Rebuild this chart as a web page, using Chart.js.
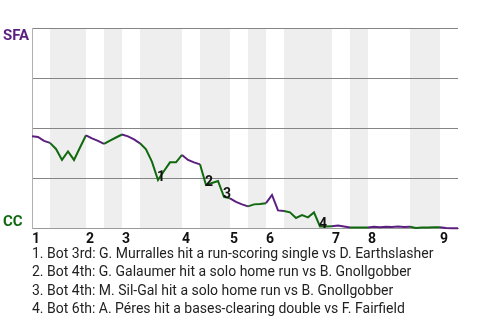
<!DOCTYPE html>
<html lang="en">
<head>
  <meta charset="UTF-8">
  <title>Win Probability</title>
  <script src="https://cdn.jsdelivr.net/npm/chart.js"></script>
  <style>
    body {
      margin: 0;
      background: #fff;
      font-family: Roboto, sans-serif;
    }
    #wrap {
      position: relative;
      width: 480px;
      height: 253px;
    }
    #notes {
      position: absolute;
      left: 32px;
      top: 244px;
      font-size: 14px;
      line-height: 18.3px;
      color: #222;
      white-space: nowrap;
    }
  </style>
</head>
<body>
  <div id="wrap"><canvas id="wpChart"></canvas></div>
  <div id="notes"></div>

  <script>
    // SFA win probability (%) after each plate appearance, play 0 = first pitch
    const sfaWinPct = [
      45.9, 45.6, 43.6, 42.6,                     // top 1
      39.6, 34.1, 38.3, 34.1, 40.3, 46.4,         // bot 1
      44.9, 43.6, 42.1,                           // top 2
      43.8, 45.3, 46.8,                           // bot 2
      45.9, 44.4, 42.4,                           // top 3
      39.4, 33.1, 24.1, 28.6, 32.9, 32.9, 36.6,   // bot 3
      34.1, 32.9, 31.9,                           // top 4
      21.6, 22.6, 23.6, 15.6, 14.9,               // bot 4
      13.1, 11.9, 10.9,                           // top 5
      11.9, 12.1, 12.5,                           // bot 5
      16.6, 8.9, 8.6,                             // top 6
      7.9, 5.1, 6.6, 5.4, 7.9, 0.9, 0.9, 1.0,     // bot 6
      1.4, 0.9, 0.4,                              // top 7
      0.35, 0.35, 0.35,                           // bot 7
      0.75, 0.45, 0.75, 0.55, 0.9, 0.55, 0.7,     // top 8
      0.1, 0.4, 0.4, 0.45, 0.5,                   // bot 8
      0.1, 0, 0                                   // top 9
    ];

    // [first play, last play] of each bottom half (shaded)
    const bottomHalves = [[3, 9], [12, 15], [18, 25], [28, 33], [36, 39], [42, 50], [53, 56], [63, 68]];
    const inningStarts = [0, 9, 15, 25, 33, 39, 50, 56, 68];
    const inningLabels = ['1', '2', '3', '4', '5', '6', '7', '8', '9'];

    const teamTop = 'SFA';
    const teamBottom = 'CC';
    const topLabelAt = 95.9;
    const bottomLabelAt = 3.15;

    const highlightPlays = [21, 29, 32, 48];
    const highlightNotes = [
      'Bot 3rd: G. Murralles hit a run-scoring single vs D. Earthslasher',
      'Bot 4th: G. Galaumer hit a solo home run vs B. Gnollgobber',
      'Bot 4th: M. Sil-Gal hit a solo home run vs B. Gnollgobber',
      'Bot 6th: A. Péres hit a bases-clearing double vs F. Fairfield'
    ];

    const PURPLE = '#5b1f80';
    const GREEN = '#11690f';

    function isBottomPlay(i) {
      return bottomHalves.some(([s, e]) => i > s && i <= e);
    }

    const gamePlugin = {
      id: 'gameMarks',
      beforeDraw(chart) {
        const { ctx, chartArea } = chart;
        const xs = chart.scales.x;
        ctx.save();
        ctx.fillStyle = '#eeeeee';
        bottomHalves.forEach(([s, e]) => {
          const x0 = xs.getPixelForValue(s);
          const x1 = xs.getPixelForValue(e);
          ctx.fillRect(x0, chartArea.top, x1 - x0, chartArea.bottom - chartArea.top);
        });
        ctx.restore();
      },
      afterDatasetsDraw(chart) {
        const { ctx } = chart;
        const xs = chart.scales.x, ys = chart.scales.y;
        ctx.save();
        ctx.fillStyle = '#111';
        ctx.font = 'bold 14px Roboto, sans-serif';
        ctx.textAlign = 'left';
        ctx.textBaseline = 'middle';
        highlightPlays.forEach((p, n) => {
          ctx.fillText(String(n + 1), xs.getPixelForValue(p) - 1, ys.getPixelForValue(sfaWinPct[p]) - 2);
        });
        ctx.restore();
      }
    };

    const ctx = document.getElementById('wpChart').getContext('2d');
    const wpChart = new Chart(ctx, {
      type: 'line',
      data: {
        datasets: [{
          data: sfaWinPct.map((v, i) => ({ x: i, y: v })),
          borderWidth: 2,
          pointRadius: 0,
          tension: 0,
          clip: false,
          borderColor: PURPLE,
          segment: {
            borderColor: c => isBottomPlay(c.p1DataIndex) ? GREEN : PURPLE
          }
        }]
      },
      options: {
        responsive: true,
        maintainAspectRatio: false,
        animation: false,
        layout: { padding: { top: 28, right: 22, bottom: 2, left: 3 } },
        plugins: {
          legend: { display: false },
          tooltip: { enabled: false }
        },
        scales: {
          x: {
            type: 'linear',
            min: 0,
            max: sfaWinPct.length - 1,
            afterBuildTicks: s => { s.ticks = inningStarts.map(v => ({ value: v })); },
            grid: { display: false, drawTicks: false },
            border: { color: '#9a9a9a', width: 1 },
            ticks: {
              autoSkip: false,
              maxRotation: 0,
              align: 'start',
              padding: 3,
              color: '#111',
              font: { family: 'Roboto', size: 14, weight: 'bold' },
              callback: v => inningLabels[inningStarts.indexOf(v)]
            }
          },
          y: {
            min: 0,
            max: 100,
            afterBuildTicks: s => {
              s.ticks = [0, bottomLabelAt, 25, 50, 75, topLabelAt, 100].map(v => ({ value: v }));
            },
            afterFit: s => { s.width = 29; },
            grid: {
              drawTicks: false,
              color: c => (c.tick && c.tick.value % 25 === 0) ? '#858585' : 'rgba(0,0,0,0)',
              lineWidth: 1
            },
            border: { color: '#b0b0b0', width: 1 },
            ticks: {
              autoSkip: false,
              crossAlign: 'far',
              font: { family: 'Roboto', size: 15, weight: 'bold' },
              color: c => c.tick.value === topLabelAt ? PURPLE : GREEN,
              callback: v => v === topLabelAt ? teamTop : (v === bottomLabelAt ? teamBottom : '')
            }
          }
        }
      },
      plugins: [gamePlugin]
    });

    const notes = document.getElementById('notes');
    highlightNotes.forEach((t, n) => {
      const line = document.createElement('div');
      line.textContent = (n + 1) + '. ' + t;
      notes.appendChild(line);
    });
  </script>
</body>
</html>
